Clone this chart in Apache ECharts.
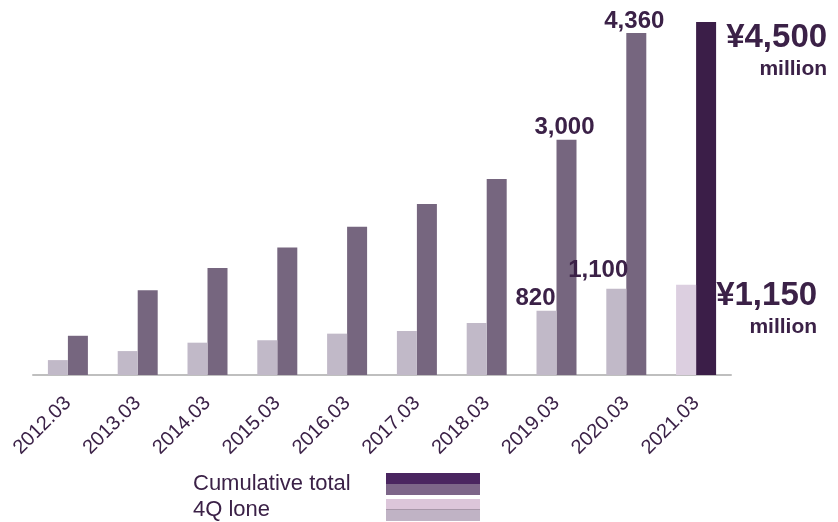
<!DOCTYPE html>
<html>
<head>
<meta charset="utf-8">
<script src="https://cdn.jsdelivr.net/npm/echarts@6/dist/echarts.min.js"></script>
<style>
html,body{margin:0;padding:0;background:#fff;}
#chart{width:838px;height:522px;}
</style>
</head>
<body>
<div id="chart"></div>
<script>
const categories = ['2012.03','2013.03','2014.03','2015.03','2016.03','2017.03','2018.03','2019.03','2020.03','2021.03'];
const cumulativeTotal = [500, 1080, 1365, 1625, 1890, 2180, 2500, 3000, 4360, 4500];
const quarterAlone = [190, 305, 412, 443, 527, 562, 663, 820, 1100, 1150];
const seriesNames = ['Cumulative total', '4Q lone'];
const labeledIndexes = [7, 8];

const TEXT = '#3b2147';
const FONT = '"Liberation Sans", Arial, sans-serif';
const fmt = v => v.toLocaleString('en-US');

function svgIcon(parts) {
  let s = "<svg xmlns='http://www.w3.org/2000/svg' width='94' height='22'>";
  parts.forEach(p => { s += "<rect x='0' y='" + p[0] + "' width='94' height='" + p[1] + "' fill='" + p[2] + "'/>"; });
  s += '</svg>';
  return 'image://data:image/svg+xml;charset=utf-8,' + encodeURIComponent(s);
}

const valueLabel = {show: true, position: 'top', distance: 2, color: TEXT, fontFamily: FONT, fontWeight: 'bold', fontSize: 24};

function buildData(values, last, kind) {
  return values.map((v, i) => {
    const item = {value: v};
    if (i === values.length - 1) {
      item.itemStyle = {color: last};
      item.label = {
        show: true,
        position: kind === 'cum' ? [131, -3] : [141, -8],
        align: 'right', verticalAlign: 'top',
        formatter: p => '{a|¥' + fmt(p.value) + '}\n{b|million}',
        rich: {
          a: {fontSize: 33, fontWeight: 'bold', color: TEXT, fontFamily: FONT, lineHeight: 38, align: 'right'},
          b: {fontSize: 21, fontWeight: 'bold', color: TEXT, fontFamily: FONT, lineHeight: 24, align: 'right'}
        }
      };
    } else if (labeledIndexes.includes(i)) {
      item.label = Object.assign({}, valueLabel, {formatter: p => fmt(p.value)});
      if (kind === 'q') {
        item.label.align = 'right';
        item.label.offset = [i === 8 ? 12 : 9, i === 8 ? -4 : 2];
      } else {
        item.label.offset = [-2, 2];
      }
    }
    return item;
  });
}

const chart = echarts.init(document.getElementById('chart'), null, {renderer: 'canvas'});
chart.setOption({
  animation: false,
  backgroundColor: '#ffffff',
  grid: {left: 33, right: 107, top: 22, bottom: 147, containLabel: false},
  legend: {
    orient: 'vertical', left: 193, top: 473, align: 'right', padding: 0,
    itemWidth: 94, itemHeight: 22, itemGap: 4,
    selectedMode: false,
    data: [
      {name: seriesNames[0], icon: svgIcon([[0, 11, '#4a2560'], [11, 11, '#7d6689']])},
      {name: seriesNames[1], icon: svgIcon([[0, 10, '#dcc6da'], [10, 1, '#a898aa'], [11, 11, '#c0b3c5']])}
    ],
    formatter: name => '{n|' + name + '}',
    textStyle: {
      color: TEXT, fontFamily: FONT, fontSize: 22,
      rich: {n: {width: 188, align: 'left', color: TEXT, fontFamily: FONT, fontSize: 22}}
    }
  },
  xAxis: {
    type: 'category', data: categories, boundaryGap: true,
    axisLine: {show: true, lineStyle: {color: '#bfbfbf', width: 2}},
    axisTick: {show: false},
    axisLabel: {rotate: 45, margin: 25, color: TEXT, fontFamily: FONT, fontSize: 20, interval: 0}
  },
  yAxis: {type: 'value', min: 0, max: 4500, show: false, splitLine: {show: false}},
  series: [
    {
      name: seriesNames[1], type: 'bar', barWidth: 20, barGap: '0%',
      itemStyle: {color: '#c1b9c8'},
      data: buildData(quarterAlone, '#dccfe0', 'q'),
      z: 3
    },
    {
      name: seriesNames[0], type: 'bar', barWidth: 20, barGap: '0%',
      itemStyle: {color: '#76667f'},
      data: buildData(cumulativeTotal, '#3b1e48', 'cum'),
      z: 2
    }
  ]
});
</script>
</body>
</html>
